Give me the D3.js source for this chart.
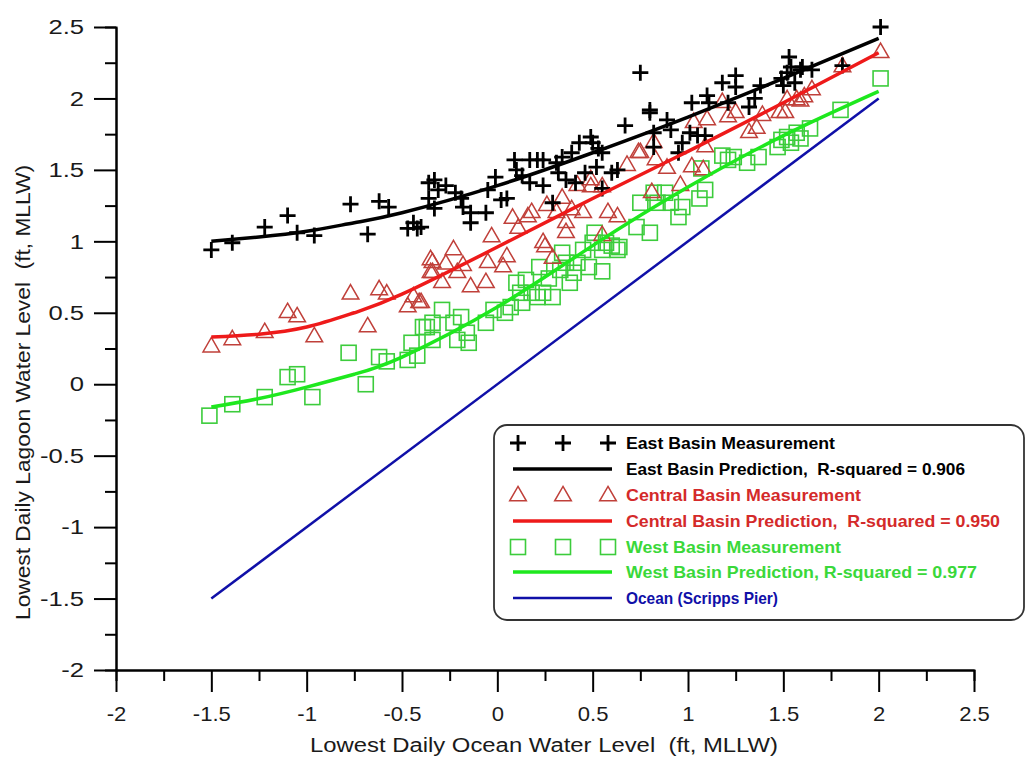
<!DOCTYPE html>
<html><head><meta charset="utf-8">
<script src="https://cdn.jsdelivr.net/npm/d3@7"></script>
<style>body{margin:0;background:#fff}svg{display:block}text{font-family:Arial,"Liberation Sans",sans-serif;white-space:pre}</style>
</head><body><svg id="c" width="1029" height="761"></svg>
<script>
// ---- data ----
const xTicks = [-2,-1.5,-1,-0.5,0,0.5,1,1.5,2,2.5];
const yTicks = [-2,-1.5,-1,-0.5,0,0.5,1,1.5,2,2.5];
const eastX = [-1.50,-1.39,-1.22,-1.10,-1.05,-0.96,-0.77,-0.68,-0.62,-0.57,-0.47,-0.42,-0.44,-0.36,-0.36,-0.40,-0.33,-0.31,-0.33,-0.27,-0.22,-0.19,-0.14,-0.14,-0.18,-0.06,-0.05,-0.01,0.02,0.05,0.09,0.10,0.13,0.17,0.17,0.21,0.24,0.24,0.29,0.31,0.32,0.34,0.36,0.39,0.41,0.43,0.46,0.49,0.50,0.53,0.55,0.55,0.52,0.60,0.63,0.67,0.80,0.75,0.80,0.82,0.82,0.89,0.91,0.95,0.97,1.01,1.05,1.02,1.09,1.10,1.11,1.18,1.21,1.25,1.25,1.32,1.35,1.38,1.49,1.50,1.52,1.53,1.54,1.56,1.59,1.60,1.65,1.81,2.01];
const eastY = [0.94,0.99,1.10,1.18,1.06,1.04,1.26,1.05,1.28,1.24,1.09,1.09,1.13,1.30,1.41,1.10,1.43,1.36,1.23,1.39,1.34,1.30,1.20,1.13,1.24,1.20,1.36,1.45,1.29,1.30,1.57,1.50,1.46,1.57,1.41,1.57,1.57,1.39,1.27,1.55,1.48,1.59,1.43,1.62,1.41,1.69,1.48,1.73,1.69,1.65,1.62,1.37,1.52,1.48,1.50,1.81,1.90,2.18,1.92,1.76,1.66,1.85,1.78,1.62,1.69,1.76,1.74,1.97,1.74,2.02,1.97,2.11,1.97,2.16,2.08,1.94,2.00,2.09,2.14,2.09,2.18,2.29,2.22,2.11,2.20,2.22,2.20,2.23,2.50];
const centralX = [-1.50,-1.39,-1.22,-1.10,-1.05,-0.96,-0.77,-0.68,-0.62,-0.58,-0.47,-0.44,-0.41,-0.35,-0.35,-0.40,-0.34,-0.34,-0.29,-0.27,-0.23,-0.21,-0.18,-0.14,-0.06,-0.05,-0.03,0.03,0.05,0.08,0.11,0.16,0.18,0.24,0.25,0.26,0.29,0.31,0.34,0.36,0.36,0.39,0.42,0.45,0.49,0.49,0.55,0.55,0.58,0.63,0.68,0.74,0.81,0.82,0.83,0.75,0.89,0.96,1.02,1.03,1.08,1.09,1.10,1.18,1.21,1.25,1.32,1.36,1.39,1.48,1.51,1.52,1.57,1.59,1.61,1.65,1.81,2.01];
const centralY = [0.26,0.31,0.36,0.50,0.47,0.33,0.63,0.40,0.66,0.63,0.54,0.61,0.57,0.87,0.78,0.57,0.78,0.85,0.71,0.84,0.94,0.78,0.83,0.68,0.71,0.85,1.03,0.82,0.89,1.16,1.09,1.17,1.20,0.99,0.96,1.25,0.88,1.20,1.30,1.13,1.06,1.22,1.39,1.20,1.43,1.38,1.04,1.38,1.20,1.17,1.53,1.62,1.34,1.69,1.57,1.62,1.51,1.39,1.52,1.83,1.50,1.66,1.85,1.97,1.87,1.90,1.76,1.79,1.88,1.90,1.90,1.99,1.99,1.98,2.01,2.06,2.22,2.32];
const westX = [-1.51,-1.39,-1.22,-1.10,-1.05,-0.97,-0.78,-0.69,-0.62,-0.58,-0.47,-0.45,-0.42,-0.37,-0.39,-0.34,-0.34,-0.29,-0.23,-0.21,-0.19,-0.16,-0.15,-0.06,-0.02,0.04,0.07,0.10,0.12,0.13,0.15,0.18,0.21,0.24,0.22,0.27,0.29,0.33,0.34,0.36,0.38,0.40,0.42,0.45,0.48,0.50,0.51,0.55,0.55,0.57,0.60,0.63,0.64,0.73,0.75,0.80,0.82,0.84,0.88,0.91,0.95,0.97,1.06,1.09,1.07,1.18,1.24,1.21,1.31,1.37,1.47,1.49,1.52,1.54,1.57,1.59,1.64,1.80,2.01];
const westY = [-0.22,-0.14,-0.09,0.05,0.07,-0.09,0.22,0.00,0.19,0.16,0.17,0.29,0.20,0.40,0.40,0.43,0.31,0.52,0.43,0.31,0.47,0.36,0.29,0.43,0.52,0.50,0.54,0.71,0.64,0.57,0.73,0.64,0.61,0.64,0.82,0.74,0.61,0.80,0.92,0.85,0.71,0.78,0.85,0.94,0.82,0.99,1.06,0.94,0.79,0.99,0.97,0.94,0.96,1.10,1.27,1.06,1.34,1.27,1.34,1.27,1.17,1.24,1.30,1.36,1.51,1.60,1.59,1.57,1.55,1.59,1.66,1.71,1.73,1.69,1.76,1.72,1.79,1.92,2.14];
const predX = [-1.5,-1.25,-1.0,-0.75,-0.5,0,0.5,1.0,1.5,2.0];
const eastPred = [1.00,1.03,1.07,1.13,1.20,1.39,1.62,1.87,2.14,2.42];
const centralPred = [0.33,0.35,0.40,0.50,0.63,0.96,1.30,1.63,1.97,2.32];
const westPred = [-0.16,-0.10,-0.02,0.07,0.19,0.54,0.97,1.38,1.74,2.05];
const oceanX = [-1.5,2.0];
const oceanY = [-1.5,2.0];
const legendLabels = ["East Basin Measurement","East Basin Prediction,  R-squared = 0.906","Central Basin Measurement","Central Basin Prediction,  R-squared = 0.950","West Basin Measurement","West Basin Prediction, R-squared = 0.977","Ocean (Scripps Pier)"];

// ---- drawing ----
const svg = d3.select("#c");
const L=116, T=27, W=858, H=643;
const x = d3.scaleLinear().domain([-2,2.5]).range([L, L+W]);
const y = d3.scaleLinear().domain([-2,2.5]).range([T+H, T]);
const C = {redLine:"#ee1a1a", redMark:"#c0403a", redText:"#d42a2a", greenLine:"#1ee81e", greenMark:"#3ccc3c", greenText:"#3ad83a", blue:"#1010a8"};
const fmt = d => String(d);

// axes
const minor = d3.range(-2,2.51,0.25).filter(v=>Math.abs(v*2-Math.round(v*2))>0.01);
const ax = svg.append("g").attr("transform",`translate(0,${T+H})`)
  .call(d3.axisBottom(x).tickValues(xTicks).tickSize(22).tickSizeOuter(0).tickPadding(14).tickFormat(fmt));
ax.append("g").call(d3.axisBottom(x).tickValues(minor).tickSize(11).tickFormat(""));
const ay = svg.append("g").attr("transform",`translate(${L},0)`)
  .call(d3.axisLeft(y).tickValues(yTicks).tickSize(22).tickSizeOuter(0).tickPadding(10).tickFormat(fmt));
ay.append("g").call(d3.axisLeft(y).tickValues(minor).tickSize(11).tickFormat(""));
svg.selectAll(".domain").attr("stroke","#000").attr("stroke-width",2);
svg.selectAll(".tick line").attr("stroke","#000").attr("stroke-width",2);
svg.selectAll(".tick text").style("font-size","21px").attr("fill","#1a1a1a").style("font-family","Arial");
function stretch(sel,k){ sel.each(function(){const t=d3.select(this); const x0=+t.attr("x")||0; t.attr("x",x0/k).attr("transform",`scale(${k},1)`);}); }
stretch(ay.selectAll(".tick text"),1.22);
stretch(ax.selectAll(".tick text"),1.05);

svg.append("text").attr("x",310).attr("y",752).attr("font-size",20).attr("fill","#1a1a1a")
  .attr("textLength",468).attr("lengthAdjust","spacingAndGlyphs").text("Lowest Daily Ocean Water Level  (ft, MLLW)");
svg.append("text").attr("transform","translate(30,620) rotate(-90)").attr("font-size",20).attr("fill","#1a1a1a")
  .attr("textLength",455).attr("lengthAdjust","spacingAndGlyphs").text("Lowest Daily Lagoon Water Level  (ft, MLLW)");

// ocean line
const line = d3.line().x(d=>x(d[0])).y(d=>y(d[1]));
const lineC = d3.line().x(d=>x(d[0])).y(d=>y(d[1])).curve(d3.curveNatural);
svg.append("path").attr("d",line(d3.zip(oceanX,oceanY))).attr("fill","none").attr("stroke",C.blue).attr("stroke-width",2.5);

// markers
const sq = 7.5;
svg.append("g").selectAll("rect").data(d3.zip(westX,westY)).join("rect")
  .attr("x",d=>x(d[0])-sq).attr("y",d=>y(d[1])-sq).attr("width",2*sq).attr("height",2*sq)
  .attr("fill","none").attr("stroke",C.greenMark).attr("stroke-width",1.6);
const tri = d3.symbol().type(d3.symbolTriangle).size(120);
svg.append("g").selectAll("path").data(d3.zip(centralX,centralY)).join("path")
  .attr("transform",d=>`translate(${x(d[0])},${y(d[1])})`).attr("d",tri())
  .attr("fill","none").attr("stroke",C.redMark).attr("stroke-width",1.5);
const plusPath = "M-8,0H8M0,-8V8";
svg.append("g").selectAll("path").data(d3.zip(eastX,eastY)).join("path")
  .attr("transform",d=>`translate(${x(d[0])},${y(d[1])})`).attr("d",plusPath)
  .attr("stroke","#000").attr("stroke-width",2.8);

// prediction curves
[[westPred,C.greenLine],[centralPred,C.redLine],[eastPred,"#000"]].forEach(([p,c])=>{
  svg.append("path").attr("d",lineC(d3.zip(predX,p))).attr("fill","none").attr("stroke",c).attr("stroke-width",3.5);
});

// legend
const lg = svg.append("g");
lg.append("rect").attr("x",494).attr("y",425).attr("width",530).attr("height",195).attr("rx",13)
  .attr("fill","#fff").attr("stroke","#333").attr("stroke-width",1.8);
const rowY = [443,469,495,521,547,572,598];
const rowColor = ["#000","#000",C.redText,C.redText,C.greenText,C.greenText,C.blue];
const textLen = [209,339,235,374,215,351,152];
const symX = [518,563,608];
symX.forEach(sx=>{
  lg.append("path").attr("transform",`translate(${sx},${rowY[0]})`).attr("d",plusPath).attr("stroke","#000").attr("stroke-width",2.8);
  lg.append("path").attr("transform",`translate(${sx},${rowY[2]+1})`).attr("d",tri()).attr("fill","none").attr("stroke",C.redMark).attr("stroke-width",1.5);
  lg.append("rect").attr("x",sx-sq).attr("y",rowY[4]-sq).attr("width",2*sq).attr("height",2*sq).attr("fill","none").attr("stroke",C.greenMark).attr("stroke-width",1.6);
});
[[1,"#000",3.5],[3,C.redLine,3.5],[5,C.greenLine,3.5],[6,C.blue,2.5]].forEach(([i,c,w])=>{
  lg.append("line").attr("x1",513).attr("x2",612).attr("y1",rowY[i]).attr("y2",rowY[i]).attr("stroke",c).attr("stroke-width",w);
});
legendLabels.forEach((t,i)=>{
  lg.append("text").attr("x",626).attr("y",rowY[i]+6).attr("font-size",16.5).attr("font-weight","bold").attr("fill",rowColor[i])
    .attr("textLength",textLen[i]).attr("lengthAdjust","spacingAndGlyphs").text(t);
});
</script></body></html>
